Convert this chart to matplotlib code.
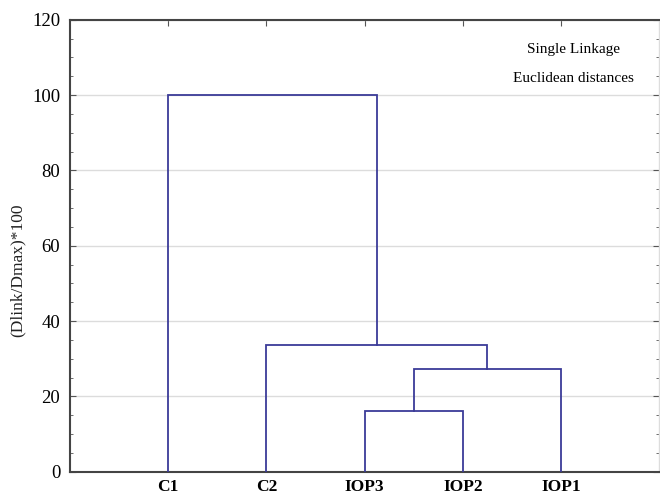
import numpy as np
import matplotlib.pyplot as plt
from matplotlib.ticker import MultipleLocator

# leaves in plotted order and the merges (left, right, height)
leaves = ["C1", "C2", "IOP3", "IOP2", "IOP1"]
merges = [("IOP3", "IOP2", 16.1),
          ("A", "IOP1", 27.2),
          ("C2", "B", 33.6),
          ("C1", "C", 100.0)]
names = ["A", "B", "C", "D"]

plt.rcParams['font.family'] = ['Liberation Serif', 'DejaVu Serif']

fig = plt.figure(figsize=(6.6, 4.96), dpi=100)
ax = fig.add_axes([0.106, 0.049, 0.893, 0.911])

line_col = "#3b3b98"
xpos = {name: i + 1 for i, name in enumerate(leaves)}
ypos = {name: 0.0 for name in leaves}
for (a, b, h), nm in zip(merges, names):
    xa, xb = xpos[a], xpos[b]
    ax.plot([xa, xa, xb, xb], [ypos[a], h, h, ypos[b]], color=line_col, lw=1.3,
            solid_joinstyle="miter", zorder=3)
    xpos[nm] = (xa + xb) / 2
    ypos[nm] = h

ax.set_xlim(0, 6)
ax.set_ylim(0, 120)
ax.set_xticks(range(1, len(leaves) + 1))
ax.set_xticklabels(leaves, fontweight="bold", fontsize=12.5)
ax.set_yticks(np.arange(0, 121, 20))
ax.yaxis.set_minor_locator(MultipleLocator(5))
ax.tick_params(axis="y", which="both", direction="in", right=True, labelsize=13.5,
               color="#555555", pad=7)
ax.tick_params(axis="y", which="major", length=4)
ax.tick_params(axis="y", which="minor", length=2.5)
ax.tick_params(axis="x", direction="in", top=True, bottom=False, length=4,
               color="#555555", pad=5)
ax.grid(axis="y", color="#dcdcdc", lw=1)
ax.set_axisbelow(True)
ax.set_ylabel("(Dlink/Dmax)*100", fontsize=12.5, color="#222222")
ax.yaxis.set_label_coords(-0.075, 0.445)

for side in ["left", "bottom", "top"]:
    ax.spines[side].set_color("#444444")
    ax.spines[side].set_linewidth(1.5)
ax.spines["right"].set_color("#dddddd")
ax.spines["right"].set_linewidth(1)

ax.text(5.13, 112, "Single Linkage", ha="center", va="center", fontsize=11)
ax.text(5.13, 104.5, "Euclidean distances", ha="center", va="center", fontsize=11)

fig.savefig("out.png", dpi=100)
